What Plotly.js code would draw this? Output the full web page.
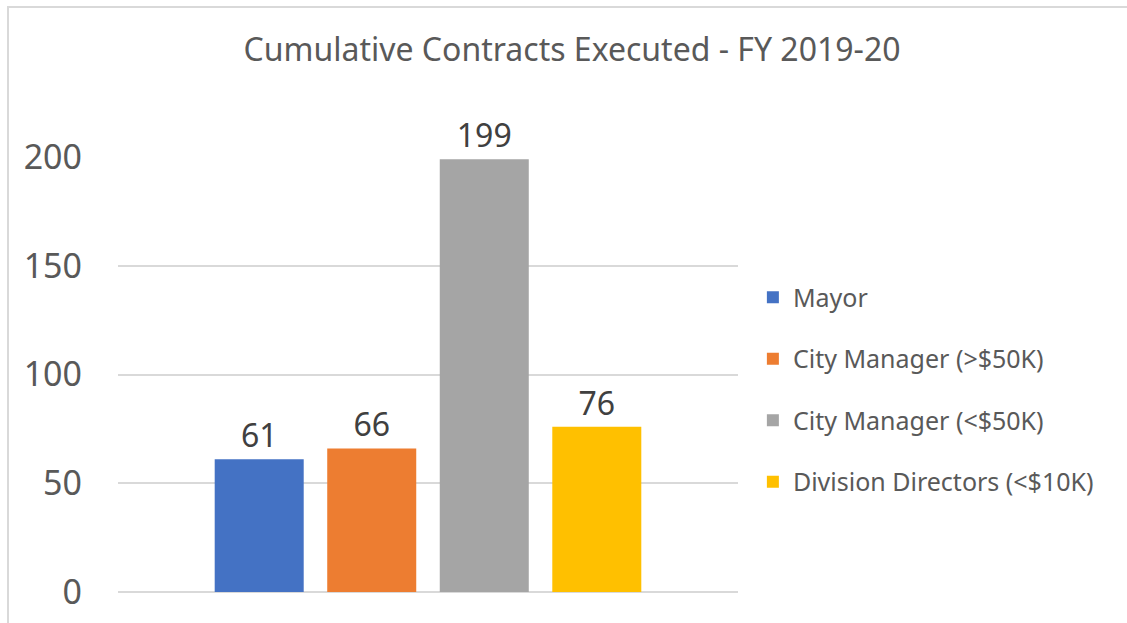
<!DOCTYPE html>
<html>
<head>
<meta charset="utf-8">
<script src="https://cdn.plot.ly/plotly-3.0.1.min.js"></script>
<style>
  html, body { margin: 0; padding: 0; background: #fff; }
  #wrap { position: relative; width: 1127px; height: 623px; }
  #chart { width: 1127px; height: 623px; }
  #frame { position: absolute; left: 7px; top: 6px; width: 1140px; height: 640px;
           border: 2px solid #d9d9d9; box-sizing: border-box; pointer-events: none; }
</style>
</head>
<body>
<div id="wrap">
  <div id="chart"></div>
  <div id="frame"></div>
</div>
<script>
const category = [""];
const seriesNames = ["Mayor", "City Manager (>$50K)", "City Manager (<$50K)", "Division Directors (<$10K)"];
const seriesValues = [61, 66, 199, 76];
const seriesColors = ["#4472C4", "#ED7D31", "#A5A5A5", "#FFC000"];
const yTicks = [0, 50, 100, 150, 200];

const FONT = "'Noto Sans', 'Open Sans', sans-serif";

const traces = seriesNames.map((name, i) => ({
  type: "bar",
  name: name,
  x: category,
  y: [seriesValues[i]],
  marker: { color: seriesColors[i] },
  text: [String(seriesValues[i])],
  textposition: "outside",
  cliponaxis: false,
  textfont: { family: FONT, size: 32, color: "#404040" },
  legendgroup: "g" + i,
  hoverinfo: "name+y"
}));

const layout = {
  width: 1127,
  height: 623,
  margin: { l: 118, r: 389, t: 157, b: 31 },
  paper_bgcolor: "#ffffff",
  plot_bgcolor: "#ffffff",
  font: { family: FONT, color: "#595959" },
  title: {
    text: "Cumulative Contracts Executed - FY 2019-20",
    font: { family: FONT, size: 32, color: "#595959" },
    x: 572 / 1127, xref: "container", xanchor: "center",
    y: 1 - 50 / 623, yref: "container", yanchor: "middle"
  },
  barmode: "group",
  bargap: 0.274,
  bargroupgap: 0.209,
  xaxis: {
    showticklabels: false,
    showgrid: false,
    zeroline: false,
    showline: false,
    ticks: ""
  },
  yaxis: {
    range: [0, 200],
    tickvals: yTicks,
    ticktext: yTicks.map(String),
    tickfont: { family: FONT, size: 34, color: "#595959" },
    showgrid: true,
    gridcolor: "#d9d9d9",
    gridwidth: 2,
    zeroline: true,
    zerolinecolor: "#d9d9d9",
    zerolinewidth: 2,
    showline: false,
    ticks: "",
    ticklabelstandoff: 35
  },
  showlegend: true,
  legend: {
    x: 1.024, xanchor: "left",
    y: 0.73, yanchor: "top",
    font: { family: FONT, size: 25, color: "#595959" },
    tracegroupgap: 26,
    itemwidth: 30,
    bgcolor: "rgba(0,0,0,0)"
  }
};

Plotly.newPlot("chart", traces, layout, { displayModeBar: false, staticPlot: true });
</script>
</body>
</html>
